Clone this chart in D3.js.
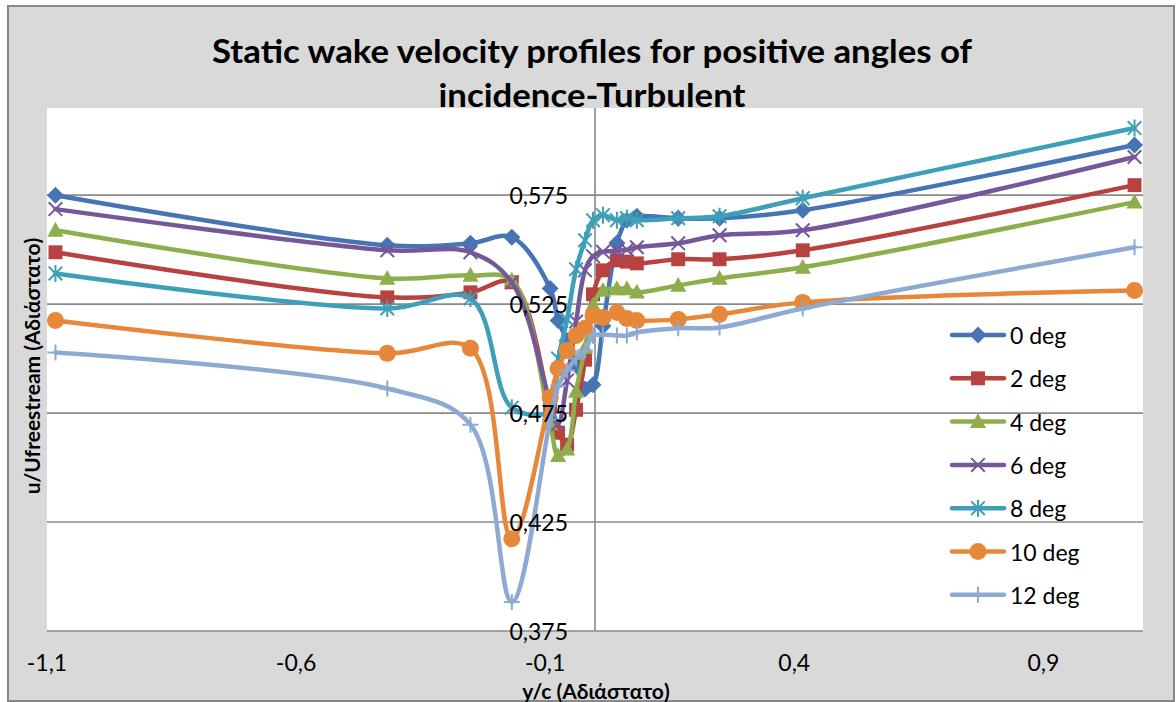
<!DOCTYPE html>
<html>
<head>
<meta charset="utf-8">
<script src="https://cdn.jsdelivr.net/npm/d3@7"></script>
<style>
  html, body { margin: 0; padding: 0; background: #ffffff; }
  svg { display: block; }
  text { font-family: Lato, "Noto Sans", "DejaVu Sans", sans-serif; }
</style>
</head>
<body>
<svg id="chart" width="1176" height="702"></svg>
<script>
// Measurement stations across the wake (y/c)
const yc = [-1.083, -0.417, -0.25, -0.167, -0.09, -0.074, -0.056, -0.038, -0.02, -0.004,
            0.016, 0.044, 0.064, 0.084, 0.167, 0.25, 0.417, 1.083];

// u/Ufreestream for each angle of incidence
const deg0  = [0.575, 0.552, 0.5529, 0.5557, 0.5322, 0.5175, 0.5083, 0.497, 0.486, 0.488,
               0.515, 0.553, 0.5635, 0.5653, 0.5644, 0.5644, 0.5681, 0.598];
const deg2  = [0.5488, 0.5281, 0.5304, 0.535, 0.478, 0.466, 0.4605, 0.4765, 0.4995, 0.5295,
               0.5405, 0.5451, 0.5445, 0.5437, 0.5456, 0.5456, 0.5497, 0.5796];
const deg4  = [0.5589, 0.5368, 0.5382, 0.5359, 0.47, 0.4555, 0.4585, 0.485, 0.505, 0.5245,
               0.5313, 0.532, 0.532, 0.5305, 0.5336, 0.5368, 0.5419, 0.5718];
const deg6  = [0.5686, 0.5497, 0.5488, 0.535, 0.48, 0.47, 0.49, 0.517, 0.5405, 0.547,
               0.549, 0.5495, 0.55, 0.5511, 0.5529, 0.5566, 0.5589, 0.5925];
const deg8  = [0.5391, 0.523, 0.5276, 0.4775, 0.476, 0.5, 0.518, 0.541, 0.5543, 0.5635,
               0.5658, 0.5635, 0.5645, 0.5635, 0.5644, 0.5653, 0.5736, 0.6058];
const deg10 = [0.5175, 0.5024, 0.5047, 0.4173, 0.4821, 0.4955, 0.5037, 0.5106, 0.5139, 0.5198,
               0.5189, 0.5212, 0.5184, 0.5175, 0.518, 0.5203, 0.5258, 0.5313];
const deg12 = [0.5028, 0.4863, 0.4697, 0.3883, 0.472, 0.4875, 0.4945, 0.5, 0.5037, 0.5105,
               0.511, 0.5106, 0.5106, 0.512, 0.5139, 0.5143, 0.523, 0.5511];

const seriesNames = ["0 deg", "2 deg", "4 deg", "6 deg", "8 deg", "10 deg", "12 deg"];
const seriesValues = [deg0, deg2, deg4, deg6, deg8, deg10, deg12];
const seriesColors = ["#4674b5", "#b8423f", "#8dae4b", "#74589a", "#3e9fb8", "#e6873a", "#8eaad3"];
const seriesMarkers = ["diamond", "square", "triangle", "x", "asterisk", "circle", "plus"];

const yTicks = [0.375, 0.425, 0.475, 0.525, 0.575];
const xTicks = [-1.1, -0.6, -0.1, 0.4, 0.9];
const titleLines = ["Static wake velocity profiles for positive angles of", "incidence-Turbulent"];
const xTitle = "y/c (Αδιάστατο)";
const yTitle = "u/Ufreestream (Αδιάστατο)";

const svg = d3.select("#chart");
const plot = { left: 47, top: 108, right: 1143, bottom: 631 };

// Chart area frame
svg.append("rect")
  .attr("x", 8).attr("y", 6).attr("width", 1166).attr("height", 695)
  .attr("fill", "#d9d9d9").attr("stroke", "#878787").attr("stroke-width", 2);

// Plot area
svg.append("rect")
  .attr("x", plot.left).attr("y", plot.top)
  .attr("width", plot.right - plot.left).attr("height", plot.bottom - plot.top)
  .attr("fill", "#ffffff");

const x = d3.scaleLinear().domain([-1.1, 1.1]).range([plot.left, plot.right]);
const y = d3.scaleLinear().domain([0.375, 0.615]).range([plot.bottom, plot.top]);

// Horizontal gridlines
svg.append("g").selectAll("line").data(yTicks).join("line")
  .attr("x1", plot.left).attr("x2", plot.right)
  .attr("y1", d => y(d)).attr("y2", d => y(d))
  .attr("stroke", "#8a8a8a").attr("stroke-width", 1.6);

// Vertical axis at y/c = 0
svg.append("line")
  .attr("x1", x(0)).attr("x2", x(0))
  .attr("y1", plot.top).attr("y2", plot.bottom)
  .attr("stroke", "#8a8a8a").attr("stroke-width", 1.6);

// Marker shapes
function markerPath(kind, s) {
  switch (kind) {
    case "diamond": return `M0,${-s}L${s},0L0,${s}L${-s},0Z`;
    case "square": { const h = s * 0.82; return `M${-h},${-h}H${h}V${h}H${-h}Z`; }
    case "triangle": return `M0,${-s}L${s * 0.95},${s * 0.75}L${-s * 0.95},${s * 0.75}Z`;
    case "x": { const h = s * 0.8; return `M${-h},${-h}L${h},${h}M${h},${-h}L${-h},${h}`; }
    case "asterisk": { const h = s * 0.8; return `M${-h},${-h}L${h},${h}M${h},${-h}L${-h},${h}M0,${-s}V${s}`; }
    case "plus": return `M0,${-s}V${s}M${-s},0H${s}`;
    default: return "";
  }
}
const strokeOnly = k => k === "x" || k === "asterisk" || k === "plus";

function drawMarker(g, kind, color, cx, cy) {
  if (kind === "circle") {
    g.append("circle").attr("cx", cx).attr("cy", cy).attr("r", 8.5).attr("fill", color);
  } else {
    g.append("path")
      .attr("transform", `translate(${cx},${cy})`)
      .attr("d", markerPath(kind, kind === "plus" ? 8 : 8.5))
      .attr("fill", strokeOnly(kind) ? "none" : color)
      .attr("stroke", color)
      .attr("stroke-width", strokeOnly(kind) ? 2 : 0);
  }
}

const line = d3.line()
  .x(d => x(d[0]))
  .y(d => y(d[1]))
  .curve(d3.curveCatmullRom.alpha(0.5));

const seriesLayer = svg.append("g");
seriesValues.forEach((vals, i) => {
  const pts = yc.map((v, j) => [v, vals[j]]);
  const g = seriesLayer.append("g");
  g.append("path").datum(pts)
    .attr("d", line)
    .attr("fill", "none")
    .attr("stroke", seriesColors[i])
    .attr("stroke-width", 4.5)
    .attr("stroke-linejoin", "round")
    .attr("stroke-linecap", "round");
  pts.forEach(p => drawMarker(g, seriesMarkers[i], seriesColors[i], x(p[0]), y(p[1])));
});

// Decimal comma, plain hyphen for negatives
const comma = s => s.replace("\u2212", "-").replace(".", ",");

// Y tick labels beside the vertical axis
const fmtY = d => comma(d3.format(".3f")(d));
svg.append("g").selectAll("text").data(yTicks).join("text")
  .attr("x", x(0) - 27).attr("y", d => y(d))
  .attr("text-anchor", "end").attr("dominant-baseline", "central")
  .attr("font-size", 23).attr("fill", "#000")
  .text(fmtY);

// X tick labels below the plot
const fmtX = d => comma(d3.format(".1f")(d));
svg.append("g").selectAll("text").data(xTicks).join("text")
  .attr("x", d => x(d)).attr("y", 662)
  .attr("text-anchor", "middle").attr("dominant-baseline", "central")
  .attr("font-size", 23).attr("fill", "#000")
  .text(fmtX);

// Axis titles
svg.append("text")
  .attr("x", 596).attr("y", 690)
  .attr("text-anchor", "middle").attr("dominant-baseline", "central")
  .attr("font-size", 21).attr("font-weight", "bold")
  .text(xTitle);

svg.append("text")
  .attr("transform", "translate(31,366) rotate(-90)")
  .attr("text-anchor", "middle").attr("dominant-baseline", "central")
  .attr("font-size", 21).attr("font-weight", "bold")
  .text(yTitle);

// Title
const titleWidths = [760, 307];
svg.append("g").selectAll("text").data(titleLines).join("text")
  .attr("x", 592).attr("y", (d, i) => 63 + i * 44)
  .attr("text-anchor", "middle")
  .attr("font-size", 33).attr("font-weight", "bold")
  .attr("textLength", (d, i) => titleWidths[i])
  .attr("lengthAdjust", "spacingAndGlyphs")
  .text(d => d);

// Legend
const legend = svg.append("g");
seriesNames.forEach((name, i) => {
  const ly = 335 + i * 43.3;
  const g = legend.append("g");
  g.append("line")
    .attr("x1", 952).attr("x2", 1004).attr("y1", ly).attr("y2", ly)
    .attr("stroke", seriesColors[i]).attr("stroke-width", 4.5).attr("stroke-linecap", "round");
  drawMarker(g, seriesMarkers[i], seriesColors[i], 978, ly);
  g.append("text")
    .attr("x", 1010).attr("y", ly)
    .attr("dominant-baseline", "central")
    .attr("font-size", 23)
    .text(name);
});
</script>
</body>
</html>
